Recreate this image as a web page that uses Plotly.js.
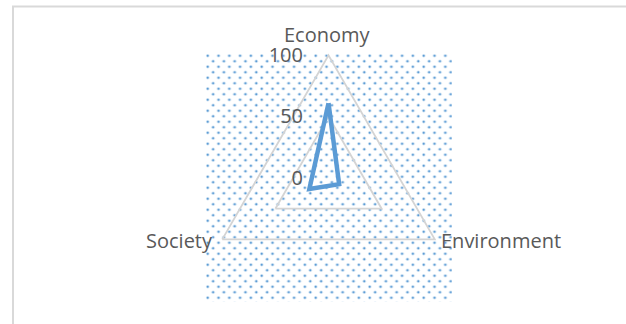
<!DOCTYPE html>
<html><head><meta charset="utf-8">
<script src="https://cdn.plot.ly/plotly-3.0.1.min.js"></script>
<style>html,body{margin:0;padding:0;background:#fff}#chart{width:626px;height:324px}</style>
</head><body><div id="chart"></div>
<script>
const categories = ['Economy', 'Environment', 'Society'];
const values = [61, 10, 18];
const radialTicks = [0, 50, 100];

const W = 626, H = 324;
const pw = 247, ph = 249;
const svg = '<svg xmlns="http://www.w3.org/2000/svg" width="' + pw + '" height="' + ph + '">' +
  '<defs><pattern id="p" width="10.8" height="11" patternUnits="userSpaceOnUse">' +
  '<circle cx="2.7" cy="2.7" r="1.8" fill="#5b9bd5" fill-opacity="0.3"/>' +
  '<circle cx="2.7" cy="2.7" r="1.0" fill="#5b9bd5"/>' +
  '<circle cx="8.1" cy="8.2" r="1.8" fill="#5b9bd5" fill-opacity="0.3"/>' +
  '<circle cx="8.1" cy="8.2" r="1.0" fill="#5b9bd5"/>' +
  '</pattern></defs><rect width="100%" height="100%" fill="url(#p)"/></svg>';
const src = 'data:image/svg+xml;charset=utf-8,' + encodeURIComponent(svg);

// polar geometry (px)
const cx = 328.5, cy = 178, R = 122.7;

const trace = {
  type: 'scatterpolar',
  mode: 'lines',
  theta: categories.concat([categories[0]]),
  r: values.concat([values[0]]),
  line: {color: '#5b9bd5', width: 4.5},
  hoverinfo: 'none'
};

const labelFont = {family: '"Open Sans", "Noto Sans", sans-serif', size: 20, color: '#595959'};
const labelPos = [
  {x: cx - 1, y: 34, xa: 'center'},
  {x: cx + R * Math.cos(Math.PI / 6) + 4, y: 240, xa: 'left'},
  {x: cx - R * Math.cos(Math.PI / 6) - 7, y: 240, xa: 'right'}
];
const annotations = categories.map(function (c, i) {
  return {
    text: c, showarrow: false, xref: 'paper', yref: 'paper',
    x: labelPos[i].x / W, y: 1 - labelPos[i].y / H,
    xanchor: labelPos[i].xa, yanchor: 'middle', font: labelFont
  };
});

const layout = {
  width: W, height: H,
  margin: {l: 0, r: 0, t: 0, b: 0},
  paper_bgcolor: '#ffffff',
  showlegend: false,
  font: labelFont,
  images: [{
    source: src, xref: 'paper', yref: 'paper',
    x: 205 / W, y: 1 - 53 / H, sizex: pw / W, sizey: ph / H,
    xanchor: 'left', yanchor: 'top', sizing: 'stretch', layer: 'below'
  }],
  shapes: [{
    type: 'rect', xref: 'paper', yref: 'paper',
    x0: 13 / W, x1: 1.05, y0: -0.1, y1: 1 - 6.5 / H,
    line: {color: '#d9d9d9', width: 2}, fillcolor: 'rgba(0,0,0,0)', layer: 'below'
  }],
  annotations: annotations,
  polar: {
    domain: {x: [(cx - R) / W, (cx + R) / W], y: [1 - (cy + R) / H, 1 - (cy - R) / H]},
    gridshape: 'linear',
    bgcolor: 'rgba(0,0,0,0)',
    radialaxis: {
      range: [0, 100], tickvals: radialTicks, angle: 90, tickangle: 90,
      showline: false, gridcolor: '#d4d4d4', gridwidth: 1.8,
      ticks: 'outside', ticklen: 18, tickcolor: 'rgba(0,0,0,0)',
      tickfont: labelFont, side: 'counterclockwise'
    },
    angularaxis: {
      direction: 'clockwise', rotation: 90, showgrid: false,
      showline: true, linecolor: '#d4d4d4', linewidth: 1.8, ticks: '',
      showticklabels: false
    }
  }
};

Plotly.newPlot('chart', [trace], layout, {staticPlot: true, displayModeBar: false});
</script>
</body></html>
